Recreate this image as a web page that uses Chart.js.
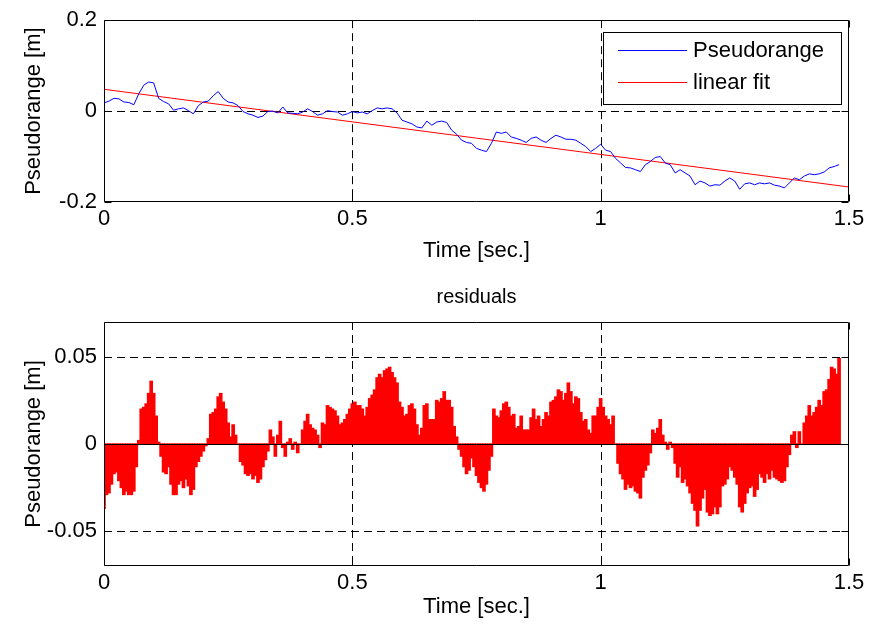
<!DOCTYPE html>
<html>
<head>
<meta charset="utf-8">
<script src="https://cdn.jsdelivr.net/npm/chart.js@4"></script>
<style>
  body { margin: 0; background: #fff; }
  #page { position: relative; width: 869px; height: 628px; }
  .box { position: absolute; left: 0; width: 869px; }
  #topBox { top: 0; height: 270px; }
  #bottomBox { top: 270px; height: 358px; }
</style>
</head>
<body>
<div id="page">
  <div class="box" id="topBox"><canvas id="pseudoCanvas"></canvas></div>
  <div class="box" id="bottomBox"><canvas id="residualCanvas"></canvas></div>
</div>
<script>
// sampled pseudorange, one value every 10 ms from t = 0
const pseudoStep = 0.01;
const pseudorange = [
  0.018, 0.022, 0.028, 0.027, 0.020, 0.019, 0.014, 0.038, 0.057, 0.064,
  0.062, 0.028, 0.021, 0.016, 0.002, 0.005, 0.007, 0.001, -0.006, 0.012,
  0.020, 0.022, 0.034, 0.043, 0.028, 0.020, 0.018, 0.012, -0.001, -0.006,
  -0.009, -0.014, -0.011, -0.001, 0.000, -0.004, 0.009, -0.004, -0.005, -0.006,
  -0.002, 0.005, -0.001, -0.009, -0.006, 0.001, -0.001, -0.002, -0.009, -0.006,
  -0.001, -0.004, -0.002, -0.006, 0.001, 0.007, 0.005, 0.007, 0.005, -0.004,
  -0.020, -0.024, -0.028, -0.035, -0.037, -0.022, -0.031, -0.024, -0.022, -0.025,
  -0.042, -0.051, -0.064, -0.069, -0.071, -0.082, -0.086, -0.089, -0.071, -0.046,
  -0.049, -0.046, -0.057, -0.060, -0.064, -0.069, -0.060, -0.057, -0.064, -0.069,
  -0.060, -0.053, -0.057, -0.062, -0.062, -0.064, -0.071, -0.078, -0.089, -0.082,
  -0.073, -0.086, -0.089, -0.104, -0.114, -0.124, -0.125, -0.129, -0.133, -0.118,
  -0.111, -0.102, -0.100, -0.114, -0.118, -0.136, -0.129, -0.136, -0.143, -0.162,
  -0.154, -0.158, -0.165, -0.162, -0.163, -0.154, -0.147, -0.154, -0.172, -0.160,
  -0.158, -0.162, -0.158, -0.160, -0.158, -0.163, -0.165, -0.169, -0.158, -0.147,
  -0.151, -0.143, -0.138, -0.140, -0.138, -0.134, -0.125, -0.122, -0.118
];

// linear fit end points
const fitTime = [0, 1.5];
const fitValue = [0.048, -0.167];

// residuals, one value every 5 ms from t = 0
const residualStep = 0.005;
const residuals = [
  -0.037, -0.029, -0.028, -0.023, -0.017, -0.016, -0.021, -0.025, -0.029, -0.027,
  -0.029, -0.029, -0.027, -0.013, 0.002, 0.020, 0.021, 0.023, 0.029, 0.036,
  0.029, 0.016, 0.001, -0.007, -0.016, -0.017, -0.013, -0.023, -0.029, -0.029,
  -0.023, -0.021, -0.025, -0.020, -0.024, -0.029, -0.026, -0.013, -0.010, -0.007,
  -0.004, -0.001, 0.003, 0.017, 0.018, 0.020, 0.027, 0.029, 0.024, 0.020,
  0.012, 0.004, 0.011, 0.005, 0.000, -0.010, -0.012, -0.017, -0.018, -0.017,
  -0.020, -0.018, -0.022, -0.020, -0.013, -0.009, -0.004, 0.008, 0.004, -0.007,
  0.005, 0.013, -0.002, -0.007, 0.001, 0.003, -0.003, 0.001, -0.005, 0.000,
  0.008, 0.013, 0.017, 0.011, 0.009, 0.008, 0.005, -0.002, 0.012, 0.011,
  0.022, 0.021, 0.020, 0.019, 0.016, 0.011, 0.012, 0.014, 0.017, 0.020,
  0.023, 0.024, 0.022, 0.022, 0.020, 0.016, 0.021, 0.026, 0.028, 0.031,
  0.038, 0.040, 0.038, 0.042, 0.043, 0.044, 0.041, 0.038, 0.035, 0.024,
  0.021, 0.016, 0.017, 0.022, 0.023, 0.020, 0.011, 0.005, 0.009, 0.022,
  0.023, 0.014, 0.014, 0.014, 0.025, 0.024, 0.026, 0.030, 0.025, 0.025,
  0.021, 0.010, 0.004, -0.003, -0.007, -0.013, -0.017, -0.015, -0.008, -0.013,
  -0.018, -0.022, -0.025, -0.027, -0.023, -0.015, -0.007, 0.020, 0.016, 0.015,
  0.019, 0.023, 0.024, 0.021, 0.016, 0.017, 0.009, 0.010, 0.016, 0.008,
  0.008, 0.008, 0.015, 0.020, 0.014, 0.016, 0.010, 0.014, 0.018, 0.016,
  0.024, 0.025, 0.027, 0.031, 0.030, 0.025, 0.029, 0.035, 0.030, 0.023,
  0.027, 0.026, 0.018, 0.013, 0.014, 0.008, 0.006, 0.016, 0.016, 0.021,
  0.026, 0.021, 0.016, 0.014, 0.011, 0.016, 0.000, -0.011, -0.017, -0.020,
  -0.026, -0.023, -0.025, -0.024, -0.027, -0.028, -0.031, -0.019, -0.015, -0.012,
  -0.005, 0.008, 0.006, 0.009, 0.014, 0.005, 0.001, -0.003, 0.001, -0.002,
  -0.011, -0.019, -0.013, -0.022, -0.020, -0.024, -0.028, -0.034, -0.038, -0.047,
  -0.038, -0.031, -0.026, -0.039, -0.041, -0.040, -0.036, -0.040, -0.036, -0.024,
  -0.023, -0.020, -0.013, -0.015, -0.019, -0.023, -0.036, -0.039, -0.034, -0.028,
  -0.025, -0.024, -0.030, -0.026, -0.017, -0.019, -0.022, -0.017, -0.020, -0.015,
  -0.019, -0.020, -0.021, -0.022, -0.021, -0.013, -0.006, 0.005, 0.007, -0.002,
  0.007, 0.000, 0.012, 0.016, 0.022, 0.016, 0.018, 0.021, 0.025, 0.022,
  0.030, 0.031, 0.037, 0.044, 0.043, 0.040, 0.049
];

const xTicks = [0, 0.5, 1, 1.5];
const topYTicks = [-0.2, 0, 0.2];
const bottomYTicks = [-0.05, 0, 0.05];

Chart.defaults.font.family = '"Liberation Sans", Arial, sans-serif';
Chart.defaults.color = '#000';

const FONT = { size: 22 };

// dashed grid under the data, box + inward ticks on top (matlab look)
const matlabAxes = {
  id: 'matlabAxes',
  beforeDatasetsDraw(chart, args, opts) {
    const { ctx, chartArea: a, scales: { x, y } } = chart;
    ctx.save();
    ctx.strokeStyle = '#000';
    ctx.lineWidth = 1;
    ctx.setLineDash([8, 5]);
    ctx.beginPath();
    opts.xGrid.forEach(v => {
      const px = Math.round(x.getPixelForValue(v)) + 0.5;
      ctx.moveTo(px, a.top);
      ctx.lineTo(px, a.bottom);
    });
    opts.yGrid.forEach(v => {
      const py = Math.round(y.getPixelForValue(v)) + 0.5;
      ctx.moveTo(a.left, py);
      ctx.lineTo(a.right, py);
    });
    ctx.stroke();
    ctx.restore();
  },
  afterDatasetsDraw(chart, args, opts) {
    const { ctx, chartArea: a, scales: { x, y } } = chart;
    const l = Math.round(a.left) + 0.5, r = Math.round(a.right) - 0.5;
    const t = Math.round(a.top) + 0.5, b = Math.round(a.bottom) - 0.5;
    const len = 7;
    ctx.save();
    ctx.strokeStyle = '#000';
    ctx.lineWidth = 1;
    ctx.beginPath();
    if (opts.baseline) {
      const py = Math.round(y.getPixelForValue(0)) + 0.5;
      ctx.moveTo(l, py);
      ctx.lineTo(r, py);
    }
    ctx.rect(l, t, r - l, b - t);
    xTicks.forEach(v => {
      const px = Math.round(x.getPixelForValue(v)) + 0.5;
      ctx.moveTo(px, b); ctx.lineTo(px, b - len);
      ctx.moveTo(px, t); ctx.lineTo(px, t + len);
    });
    opts.yTicks.forEach(v => {
      const py = Math.round(y.getPixelForValue(v)) + 0.5;
      ctx.moveTo(l, py); ctx.lineTo(l + len, py);
      ctx.moveTo(r, py); ctx.lineTo(r - len, py);
    });
    ctx.stroke();
    ctx.restore();
  }
};

// boxed legend in the upper right corner
const boxLegend = {
  id: 'boxLegend',
  afterDraw(chart) {
    const { ctx } = chart;
    const x0 = 603.5, y0 = 32.5, w = 238, h = 72;
    ctx.save();
    ctx.fillStyle = '#fff';
    ctx.fillRect(x0, y0, w, h);
    ctx.strokeStyle = '#000';
    ctx.lineWidth = 1;
    ctx.strokeRect(x0, y0, w, h);
    ctx.font = '22px "Liberation Sans", Arial, sans-serif';
    ctx.textBaseline = 'middle';
    ctx.fillStyle = '#000';
    chart.data.datasets.forEach((ds, i) => {
      const yy = 50.5 + i * 32;
      ctx.strokeStyle = ds.borderColor;
      ctx.beginPath();
      ctx.moveTo(618, yy);
      ctx.lineTo(687, yy);
      ctx.stroke();
      ctx.fillText(ds.label, 693, yy);
    });
    ctx.restore();
  }
};

function xAxis(height, titlePad) {
  return {
    type: 'linear',
    min: 0,
    max: 1.5,
    offset: false,
    afterBuildTicks: s => { s.ticks = xTicks.map(v => ({ value: v })); },
    afterFit: s => { s.height = height; },
    ticks: { font: FONT, padding: 4, maxRotation: 0, autoSkip: false, callback: v => String(v) },
    grid: { display: false, drawTicks: false },
    border: { display: false },
    title: { display: true, text: 'Time [sec.]', font: FONT, padding: { top: 0, bottom: titlePad } }
  };
}

function yAxis(min, max, ticks) {
  return {
    min: min,
    max: max,
    afterBuildTicks: s => { s.ticks = ticks.map(v => ({ value: v })); },
    afterFit: s => { s.width = 104; },
    ticks: { font: FONT, padding: 7, callback: v => String(v) },
    grid: { display: false, drawTicks: false },
    border: { display: false },
    title: { display: true, text: 'Pseudorange [m]', font: FONT, padding: { top: 21, bottom: 0 } }
  };
}

new Chart(document.getElementById('pseudoCanvas'), {
  type: 'line',
  data: {
    datasets: [{
      label: 'Pseudorange',
      data: pseudorange.map((v, i) => ({ x: i * pseudoStep, y: v })),
      borderColor: '#0000ff',
      borderWidth: 1,
      pointRadius: 0,
      tension: 0
    }, {
      label: 'linear fit',
      data: fitTime.map((t, i) => ({ x: t, y: fitValue[i] })),
      borderColor: '#ff0000',
      borderWidth: 1,
      pointRadius: 0,
      tension: 0
    }]
  },
  options: {
    responsive: true,
    maintainAspectRatio: false,
    animation: false,
    layout: { padding: { top: 19, right: 20, bottom: 0, left: 0 } },
    plugins: {
      legend: { display: false },
      tooltip: { enabled: false },
      matlabAxes: { xGrid: [0.5, 1], yGrid: [0], yTicks: topYTicks, baseline: false }
    },
    scales: {
      x: xAxis(68, 6),
      y: yAxis(-0.2, 0.2, topYTicks)
    }
  },
  plugins: [matlabAxes, boxLegend]
});

new Chart(document.getElementById('residualCanvas'), {
  type: 'bar',
  data: {
    datasets: [{
      label: 'residuals',
      data: residuals.map((v, i) => ({ x: i * residualStep, y: v })),
      backgroundColor: '#ff0000',
      borderWidth: 0,
      inflateAmount: 0.6,
      barPercentage: 1,
      categoryPercentage: 1
    }]
  },
  options: {
    responsive: true,
    maintainAspectRatio: false,
    animation: false,
    layout: { padding: { top: 15, right: 20, bottom: 0, left: 0 } },
    plugins: {
      legend: { display: false },
      tooltip: { enabled: false },
      title: {
        display: true, text: 'residuals', fullSize: false,
        font: { size: 20, weight: 'normal' }, color: '#000',
        padding: { top: 0, bottom: 13 }
      },
      matlabAxes: { xGrid: [0.5, 1], yGrid: [-0.05, 0.05], yTicks: bottomYTicks, baseline: true }
    },
    scales: {
      x: xAxis(62, 8),
      y: yAxis(-0.07, 0.07, bottomYTicks)
    }
  },
  plugins: [matlabAxes]
});
</script>
</body>
</html>
